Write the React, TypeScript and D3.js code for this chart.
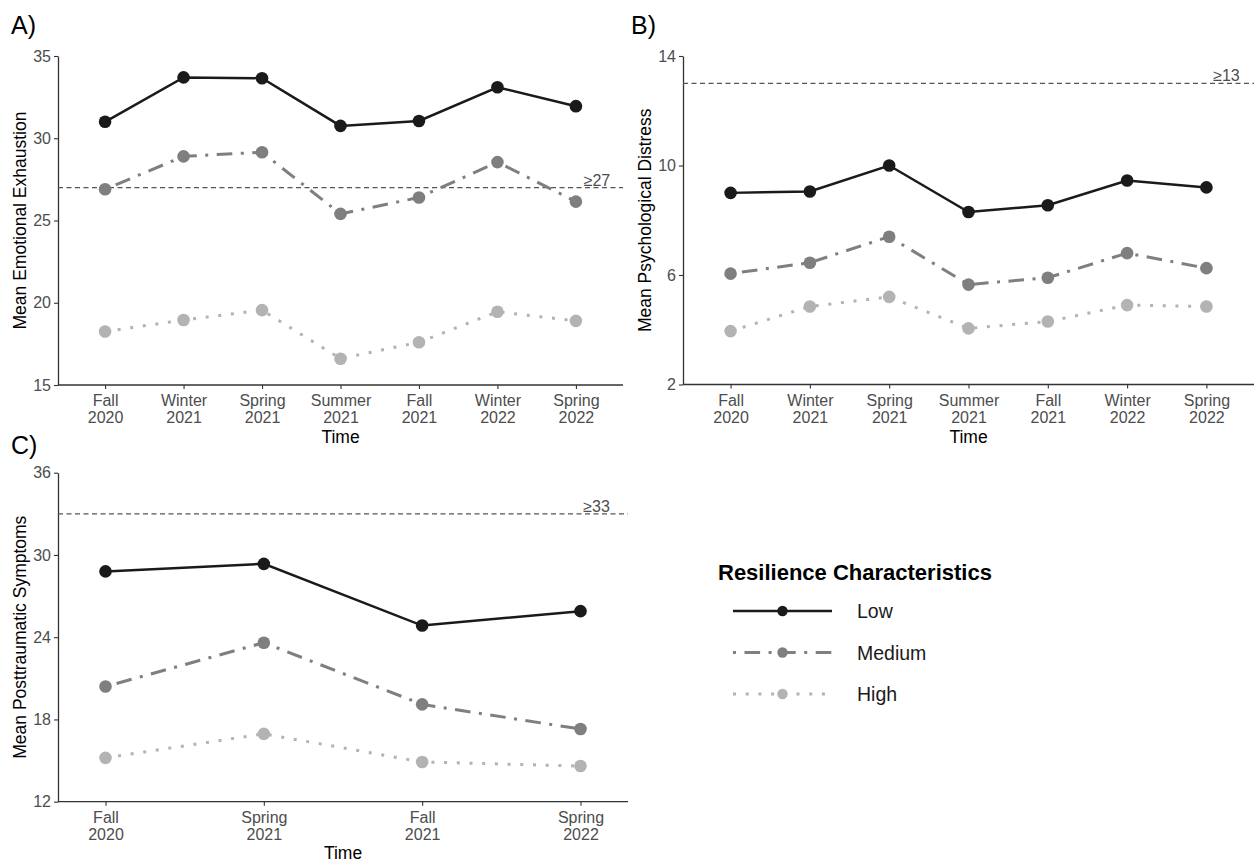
import React, { useEffect, useRef } from 'react';
import * as d3 from 'd3';

// time points
const timesAB = ['Fall 2020', 'Winter 2021', 'Spring 2021', 'Summer 2021', 'Fall 2021', 'Winter 2022', 'Spring 2022'];
const timesC = ['Fall 2020', 'Spring 2021', 'Fall 2021', 'Spring 2022'];
const levels = ['Low', 'Medium', 'High'];

// A) emotional exhaustion
const exhaustionLow = [31.0, 33.7, 33.65, 30.75, 31.05, 33.1, 31.95];
const exhaustionMedium = [26.9, 28.9, 29.15, 25.4, 26.4, 28.55, 26.15];
const exhaustionHigh = [18.25, 18.95, 19.55, 16.6, 17.6, 19.45, 18.9];
const exhaustionTicks = [15, 20, 25, 30, 35];
const exhaustionCutoff = 27;

// B) psychological distress
const distressLow = [9.0, 9.05, 10.0, 8.3, 8.55, 9.45, 9.2];
const distressMedium = [6.05, 6.45, 7.4, 5.65, 5.9, 6.8, 6.25];
const distressHigh = [3.95, 4.85, 5.2, 4.05, 4.3, 4.9, 4.85];
const distressTicks = [2, 6, 10, 14];
const distressCutoff = 13;

// C) posttraumatic symptoms
const ptsdLow = [28.8, 29.35, 24.85, 25.9];
const ptsdMedium = [20.4, 23.6, 19.1, 17.3];
const ptsdHigh = [15.2, 16.95, 14.9, 14.6];
const ptsdTicks = [12, 18, 24, 30, 36];
const ptsdCutoff = 33;

const FONT = '"Liberation Sans", Arial, Helvetica, sans-serif';

const lineStyle: Record<string, { color: string; dash: string | null; r: number }> = {
    Low: { color: '#1a1a1a', dash: null, r: 6.3 },
    Medium: { color: '#7f7f7f', dash: '3 8.5 15.6 8.5', r: 6.3 },
    High: { color: '#b3b3b3', dash: '3 9.7', r: 6.3 },
};

function drawPanel(svg: any, opts: any) {
    const { tag, tagX, tagY, left, right, top, bottom, times, pad, domain, ticks, series, cutoff, cutoffDx, yTitle, yTitleX, timeY } = opts;

    const x = d3.scalePoint<string>().domain(times).range([left, right]).padding(pad);
    const y = d3.scaleLinear().domain(domain).range([bottom, top]);

    const g = svg.append('g');

    g.append('text')
        .attr('x', tagX)
        .attr('y', tagY)
        .attr('font-size', 25)
        .attr('fill', '#000')
        .text(tag);

    // y axis
    const yAxis = g.append('g')
        .attr('transform', `translate(${left},0)`)
        .call(d3.axisLeft(y).tickValues(ticks).tickSize(4).tickPadding(3).tickSizeOuter(0));
    yAxis.select('.domain').attr('stroke', '#333').attr('stroke-width', 1.3);
    yAxis.selectAll('.tick line').attr('stroke', '#333').attr('stroke-width', 1.1);
    yAxis.selectAll('.tick text')
        .attr('font-size', 16)
        .attr('font-family', FONT)
        .attr('fill', '#4d4d4d');

    // x axis
    const xAxis = g.append('g')
        .attr('transform', `translate(0,${bottom})`)
        .call(d3.axisBottom(x).tickSize(4).tickSizeOuter(0).tickFormat(() => ''));
    xAxis.select('.domain').attr('stroke', '#333').attr('stroke-width', 1.3)
        .attr('d', `M${left},0H${right}`);
    xAxis.selectAll('.tick line').attr('stroke', '#333').attr('stroke-width', 1.1);
    xAxis.selectAll('.tick text').remove();
    xAxis.selectAll('.tick').each(function (this: any, d: string) {
        const parts = d.split(' ');
        const t = d3.select(this).append('text')
            .attr('text-anchor', 'middle')
            .attr('font-size', 16)
            .attr('font-family', FONT)
            .attr('fill', '#4d4d4d');
        t.append('tspan').attr('x', 0).attr('y', 21).text(parts[0]);
        t.append('tspan').attr('x', 0).attr('y', 38).text(parts[1]);
    });

    // axis titles
    g.append('text')
        .attr('transform', `translate(${yTitleX},${(top + bottom) / 2}) rotate(-90)`)
        .attr('text-anchor', 'middle')
        .attr('font-size', 17.5)
        .attr('fill', '#000')
        .text(yTitle);
    g.append('text')
        .attr('x', (left + right) / 2)
        .attr('y', timeY)
        .attr('text-anchor', 'middle')
        .attr('font-size', 17.5)
        .attr('fill', '#000')
        .text('Time');

    // cutoff line
    g.append('line')
        .attr('x1', left)
        .attr('x2', right)
        .attr('y1', y(cutoff))
        .attr('y2', y(cutoff))
        .attr('stroke', '#555')
        .attr('stroke-width', 1.3)
        .attr('stroke-dasharray', '5 3.5');
    g.append('text')
        .attr('x', (x(times[times.length - 1]) as number) + cutoffDx)
        .attr('y', y(cutoff) - 2)
        .attr('text-anchor', 'middle')
        .attr('font-size', 16)
        .attr('fill', '#4d4d4d')
        .text(`≥${cutoff}`);

    const line = d3.line<number>()
        .x((_, i) => x(times[i]) as number)
        .y(d => y(d));

    levels.forEach((lvl, k) => {
        const vals: number[] = series[k];
        const st = lineStyle[lvl];
        g.append('path')
            .datum(vals)
            .attr('d', line)
            .attr('fill', 'none')
            .attr('stroke', st.color)
            .attr('stroke-width', lvl === 'Low' ? 2.5 : 3)
            .attr('stroke-dasharray', st.dash);
        g.selectAll(null)
            .data(vals)
            .enter()
            .append('circle')
            .attr('cx', (_: number, i: number) => x(times[i]) as number)
            .attr('cy', (d: number) => y(d))
            .attr('r', st.r)
            .attr('fill', st.color);
    });
}

function App() {
    const ref = useRef<SVGSVGElement>(null);

    useEffect(() => {
        const svg = d3.select(ref.current);
        svg.selectAll('*').remove();
        svg.attr('font-family', FONT);

        drawPanel(svg, {
            tag: 'A)', tagX: 11, tagY: 34,
            left: 58, right: 623, top: 56, bottom: 385,
            times: timesAB, pad: 0.6,
            domain: [15, 35], ticks: exhaustionTicks,
            series: [exhaustionLow, exhaustionMedium, exhaustionHigh],
            cutoff: exhaustionCutoff, cutoffDx: 21,
            yTitle: 'Mean Emotional Exhaustion', yTitleX: 26, timeY: 443,
        });

        drawPanel(svg, {
            tag: 'B)', tagX: 631, tagY: 34,
            left: 683, right: 1254, top: 56, bottom: 384.5,
            times: timesAB, pad: 0.6,
            domain: [2, 14], ticks: distressTicks,
            series: [distressLow, distressMedium, distressHigh],
            cutoff: distressCutoff, cutoffDx: 20,
            yTitle: 'Mean Psychological Distress', yTitleX: 651, timeY: 443,
        });

        drawPanel(svg, {
            tag: 'C)', tagX: 11, tagY: 454,
            left: 58, right: 628, top: 472.7, bottom: 801.7,
            times: timesC, pad: 0.3,
            domain: [12, 36], ticks: ptsdTicks,
            series: [ptsdLow, ptsdMedium, ptsdHigh],
            cutoff: ptsdCutoff, cutoffDx: 16,
            yTitle: 'Mean Posttraumatic Symptoms', yTitleX: 26, timeY: 859,
        });

        // legend
        const lg = svg.append('g').attr('transform', 'translate(718,0)');
        lg.append('text')
            .attr('x', 0)
            .attr('y', 580)
            .attr('font-size', 22)
            .attr('font-weight', 'bold')
            .attr('fill', '#000')
            .text('Resilience Characteristics');
        levels.forEach((lvl, k) => {
            const st = lineStyle[lvl];
            const cy = 611 + k * 41.5;
            lg.append('line')
                .attr('x1', 15)
                .attr('x2', 114)
                .attr('y1', cy)
                .attr('y2', cy)
                .attr('stroke', st.color)
                .attr('stroke-width', lvl === 'Low' ? 2.5 : 3)
                .attr('stroke-dasharray', st.dash);
            lg.append('circle')
                .attr('cx', 64.5)
                .attr('cy', cy)
                .attr('r', 5.2)
                .attr('fill', st.color);
            lg.append('text')
                .attr('x', 139)
                .attr('y', cy + 7)
                .attr('font-size', 19.5)
                .attr('fill', '#1a1a1a')
                .text(lvl);
        });
    }, []);

    return (
        <svg
            ref={ref}
            width={1255}
            height={862}
            style={{ position: 'absolute', left: 0, top: 0, background: '#fff' }}
        />
    );
}

export default App;
